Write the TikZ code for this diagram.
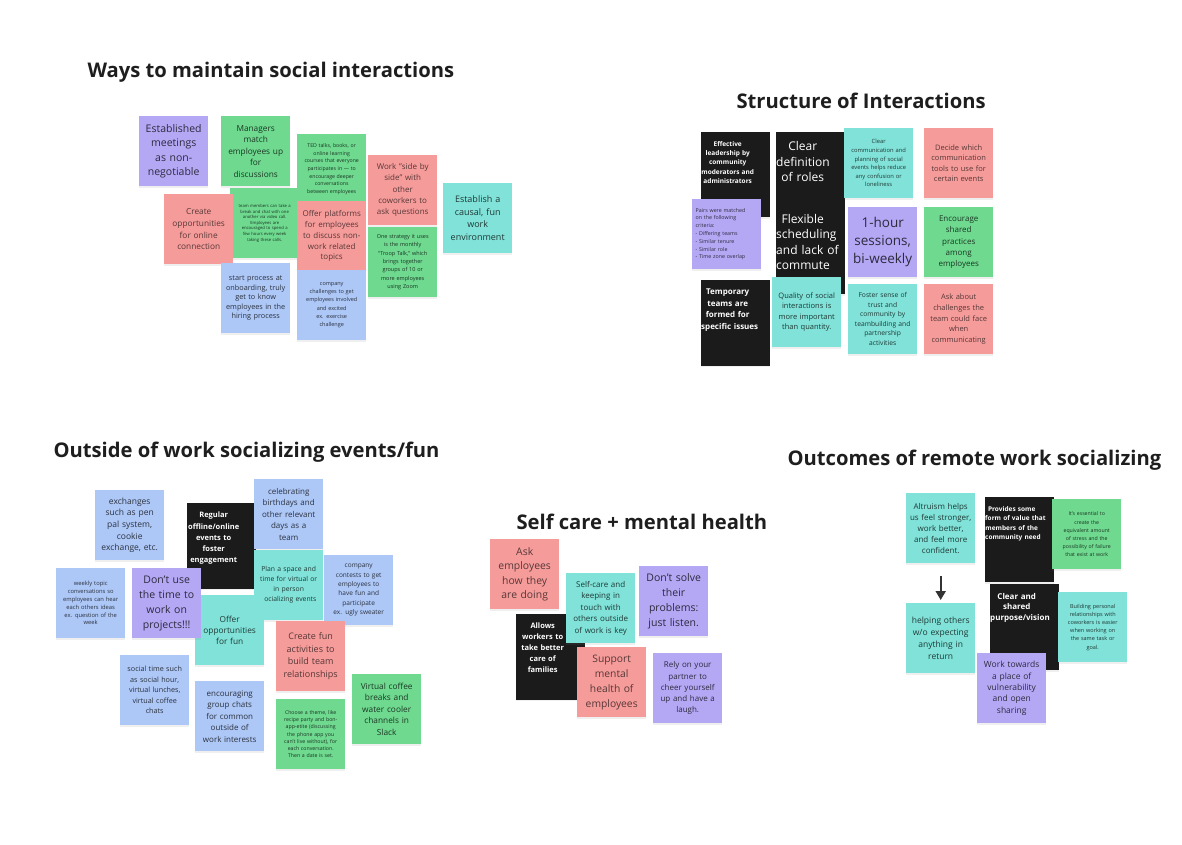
\documentclass[tikz,border=0pt]{standalone}
\usepackage{fontspec}
\setmainfont{Open Sans}
\usetikzlibrary{arrows.meta, shadows}

\definecolor{notepurple}{HTML}{B4A8F5}
\definecolor{notegreen}{HTML}{6ED98F}
\definecolor{notered}{HTML}{F59C9B}
\definecolor{noteteal}{HTML}{80E2D8}
\definecolor{noteblue}{HTML}{ADC7F7}
\definecolor{noteblack}{HTML}{1B1B1B}
\definecolor{headink}{HTML}{1E1E1E}
\definecolor{arrowink}{HTML}{333333}

\begin{document}
\begin{tikzpicture}[
    x=1pt, y=-1pt,
    note/.style={anchor=north west, align=center, text width=62pt, inner xsep=3.5pt, inner ysep=3pt,
      minimum width=69pt, minimum height=70pt,
      drop shadow={shadow xshift=0pt, shadow yshift=-1.5pt, opacity=0.12}},
    fs/.style 2 args={font=\fontsize{#1}{#2}\selectfont},
    fsb/.style 2 args={font=\fontsize{#1}{#2}\selectfont\bfseries},
    purplenote/.style={note, fill=notepurple, text=notepurple!25!black},
    greennote/.style={note, fill=notegreen, text=notegreen!25!black},
    rednote/.style={note, fill=notered, text=notered!35!black},
    tealnote/.style={note, fill=noteteal, text=noteteal!25!black},
    bluenote/.style={note, fill=noteblue, text=noteblue!25!black},
    blacknote/.style={note, fill=noteblack, text=white, minimum height=0pt, inner xsep=0pt, inner ysep=9pt,
      text width=69pt, text depth=62pt,
      execute at begin node={\hyphenpenalty=10000\exhyphenpenalty=10000
        \leftskip=0pt plus 1fil\rightskip=16pt plus 1fil\parfillskip=0pt\relax}},
    heading/.style={anchor=west, font=\fontsize{20.2}{24}\selectfont\bfseries, text=headink},
    flow/.style={-{Triangle[length=9pt,width=10pt]}, line width=2pt, draw=arrowink, shorten <=13pt, shorten >=3pt}
  ]
  \useasboundingbox[fill=white] (0,0) rectangle (1182,845);

  % Headings
  \node[heading] (hways) at (84,72) {Ways to maintain social interactions};
  \node[heading] (hstruct) at (733,101) {Structure of Interactions};
  \node[heading] (houtside) at (50,452) {Outside of work socializing events/fun};
  \node[heading] (hself) at (513,522) {Self care + mental health};
  \node[heading] (houtcomes) at (784,460) {Outcomes of remote work socializing};

  % Ways to maintain social interactions
  \node[purplenote, fs={10.5}{14.5}] (meetings) at (139,116) {Established\\ meetings\\ as non-\\ negotiable};
  \node[greennote, fs={8.3}{11.5}] (managers) at (221,116) {Managers\\ match\\ employees up\\ for\\ discussions};
  \node[greennote, fs={5.2}{7.6}] (ted) at (297,134) {TED talks, books, or\\ online learning\\ courses that everyone\\ participates in — to\\ encourage deeper\\ conversations\\ between employees};
  \node[greennote, fs={4.2}{5.6}] (breaks) at (230,188) {team members can take a\\ break and chat with one\\ another via video call.\\ Employees are\\ encouraged to spend a\\ few hours every week\\ taking these calls.};
  \node[rednote, fs={8.3}{11.7}] (online) at (164,194) {Create\\ opportunities\\ for online\\ connection};
  \node[rednote, fs={8}{10.8}] (platforms) at (297,201) {Offer platforms\\ for employees\\ to discuss non-\\ work related\\ topics};
  \node[rednote, fs={8}{11.3}] (sidebyside) at (368,155) {Work "side by\\ side" with\\ other\\ coworkers to\\ ask questions};
  \node[greennote, fs={5.5}{8.3}] (troop) at (368,227) {One strategy it uses\\ is the monthly\\ “Troop Talk,” which\\ brings together\\ groups of 10 or\\ more employees\\ using Zoom};
  \node[tealnote, fs={9}{12.6}] (casual) at (443,183) {Establish a\\ causal, fun\\ work\\ environment};
  \node[bluenote, fs={7.3}{9.6}] (onboarding) at (221,263) {start process at\\ onboarding, truly\\ get to know\\ employees in the\\ hiring process};
  \node[bluenote, fs={5.5}{8.1}] (challenges) at (297,270) {company\\ challenges to get\\ employees involved\\ and excited\\ ex. exercise\\ challenge};

  % Structure of Interactions
  \node[blacknote, fsb={6.5}{9.4}] (leadership) at (701,132) {Effective\\ leadership~by\\ community\\ moderators~and\\ administrators};
  \node[purplenote, fs={5.3}{7.8}, align=left] (pairs) at (692,199) {Pairs were matched\\ on the following\\ criteria:\\ - Differing teams\\ - Similar tenure\\ - Similar role\\ - Time zone overlap};
  \node[blacknote, fs={12}{15.7}] (roles) at (776,132) {Clear\\ definition\\ of~roles};
  \node[blacknote, fs={12}{15.5}] (flexible) at (776,205) {Flexible\\ scheduling\\ and~lack~of\\ commute};
  \node[blacknote, fsb={8}{11.5}] (temporary) at (701,280) {Temporary\\ teams~are\\ formed~for\\ specific~issues};
  \node[tealnote, fs={7.5}{10.5}] (quality) at (772,277) {Quality of social\\ interactions is\\ more important\\ than quantity.};
  \node[tealnote, fs={5.8}{8.6}] (planning) at (844,128) {Clear\\ communication and\\ planning of social\\ events helps reduce\\ any confusion or\\ loneliness};
  \node[rednote, fs={7.5}{10.5}] (tools) at (924,128) {Decide which\\ communication\\ tools to use for\\ certain events};
  \node[purplenote, fs={13.5}{18}] (sessions) at (848,207) {1-hour\\ sessions,\\ bi-weekly};
  \node[greennote, fs={8}{11.2}] (practices) at (924,207) {Encourage\\ shared\\ practices\\ among\\ employees};
  \node[tealnote, fs={6.7}{9.5}] (trust) at (848,284) {Foster sense of\\ trust and\\ community by\\ teambuilding and\\ partnership\\ activities};
  \node[rednote, fs={7.5}{10.6}] (askabout) at (924,284) {Ask about\\ challenges the\\ team could face\\ when\\ communicating};

  % Outside of work socializing events/fun
  \node[bluenote, fs={8.5}{11.7}] (penpal) at (95,490) {exchanges\\ such as pen\\ pal system,\\ cookie\\ exchange, etc.};
  \node[blacknote, fsb={7.5}{11.2}] (regular) at (187,503) {Regular\\ offline/online\\ events~to\\ foster\\ engagement};
  \node[bluenote, fs={8}{11.5}] (birthdays) at (254,479) {celebrating\\ birthdays and\\ other relevant\\ days as a\\ team};
  \node[tealnote, fs={6.8}{10}] (space) at (254,550) {Plan a space and\\ time for virtual or\\ in person\\ socializing events};
  \node[bluenote, fs={6.5}{9.3}] (contests) at (324,555) {company\\ contests to get\\ employees to\\ have fun and\\ participate\\ ex. ugly sweater};
  \node[bluenote, fs={5.8}{7.8}] (weekly) at (56,568) {weekly topic\\ conversations so\\ employees can hear\\ each others ideas\\ ex. question of the\\ week};
  \node[tealnote, fs={8.3}{11}] (fun) at (195,595) {Offer\\ opportunities\\ for fun};
  \node[purplenote, fs={10.5}{15}] (projects) at (132,568) {Don’t use\\ the time to\\ work on\\ projects!!!};
  \node[rednote, fs={9}{12.8}] (teambuild) at (276,621) {Create fun\\ activities to\\ build team\\ relationships};
  \node[bluenote, fs={7.2}{10.5}] (socialtime) at (120,655) {social time such\\ as social hour,\\ virtual lunches,\\ virtual coffee\\ chats};
  \node[bluenote, fs={8}{11.5}] (groupchats) at (195,681) {encouraging\\ group chats\\ for common\\ outside of\\ work interests};
  \node[greennote, fs={5.2}{7.2}] (theme) at (276,699) {Choose a theme, like\\ recipe party and bon-\\ app-etite (discussing\\ the phone app you\\ can't live without), for\\ each conversation.\\ Then a date is set.};
  \node[greennote, fs={8.3}{11.5}] (coffee) at (352,674) {Virtual coffee\\ breaks and\\ water cooler\\ channels in\\ Slack};

  % Self care + mental health
  \node[rednote, fs={10.4}{14.5}] (howdoing) at (490,539) {Ask\\ employees\\ how they\\ are doing};
  \node[blacknote, fsb={7.5}{11}] (families) at (516,614) {Allows\\ workers~to\\ take~better\\ care~of\\ families};
  \node[tealnote, fs={8}{11.5}] (selfcare) at (566,573) {Self-care and\\ keeping in\\ touch with\\ others outside\\ of work is key};
  \node[purplenote, fs={10.5}{15}] (listen) at (639,566) {Don’t solve\\ their\\ problems:\\ just listen.};
  \node[rednote, fs={10.3}{15}] (mental) at (577,647) {Support\\ mental\\ health of\\ employees};
  \node[purplenote, fs={8}{11.2}] (partner) at (653,653) {Rely on your\\ partner to\\ cheer yourself\\ up and have a\\ laugh.};

  % Outcomes of remote work socializing
  \node[tealnote, fs={8}{11}] (altruism) at (906,493) {Altruism helps\\ us feel stronger,\\ work better,\\ and feel more\\ confident.};
  \node[blacknote, fsb={6.5}{9.5}] (value) at (985,497) {Provides~some\\ form~of~value~that\\ members~of~the\\ community~need};
  \node[greennote, fs={5.2}{8.1}] (stress) at (1052,499) {It's essential to\\ create the\\ equivalent amount\\ of stress and the\\ possibility of failure\\ that exist at work};
  \node[tealnote, fs={8.5}{12}] (helping) at (906,603) {helping others\\ w/o expecting\\ anything in\\ return};
  \node[blacknote, fsb={8}{10.5}] (vision) at (990,584) {Clear~and\\ shared\\ purpose/vision};
  \node[tealnote, fs={5.5}{8.2}] (personal) at (1058,592) {Building personal\\ relationships with\\ coworkers is easier\\ when working on\\ the same task or\\ goal.};
  \node[purplenote, fs={8.5}{11.3}] (vulnerable) at (977,653) {Work towards\\ a place of\\ vulnerability\\ and open\\ sharing};

  \draw[flow] (altruism) -- (helping);
\end{tikzpicture}
\end{document}
